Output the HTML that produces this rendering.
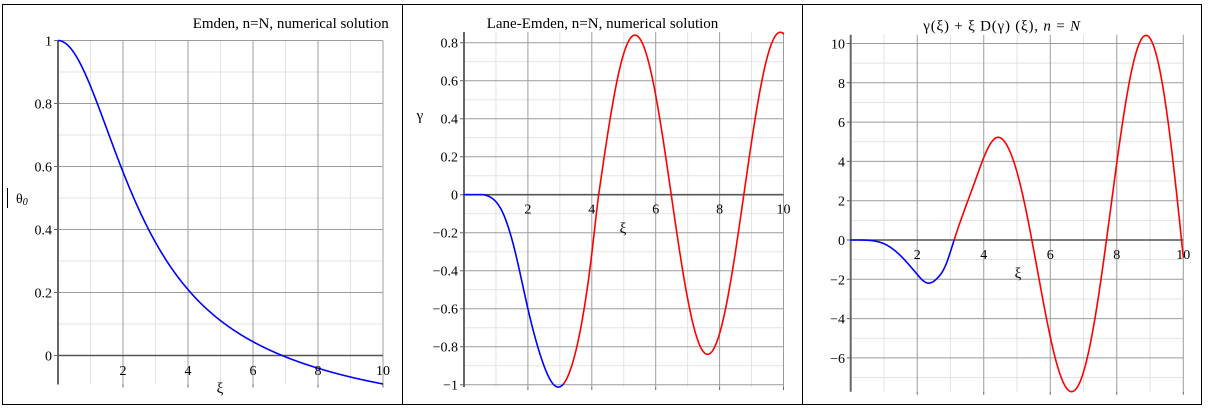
<!DOCTYPE html>
<html>
<head>
<meta charset="utf-8">
<style>
html,body{margin:0;padding:0;background:#fff;}
svg{display:block;font-family:"Liberation Serif","DejaVu Serif",serif;}
text{fill:#000;}
</style>
</head>
<body>
<svg id="s" width="1208" height="409" viewBox="0 0 1208 409" xmlns="http://www.w3.org/2000/svg">
<rect width="1208" height="409" fill="#fff"/>
<g id="grid"></g>
<g id="curves" fill="none"></g>

<g font-size="15">
<text x="192.7" y="28" textLength="196" lengthAdjust="spacing">Emden, n=N, numerical solution</text>
<text x="486.7" y="28" textLength="231.6" lengthAdjust="spacing">Lane-Emden, n=N, numerical solution</text>
<text x="923.3" y="30.5" textLength="156.7" lengthAdjust="spacing">γ(ξ) + ξ D(γ) (ξ), <tspan font-style="italic">n</tspan> = <tspan font-style="italic">N</tspan></text>
</g>

<g font-size="14" text-anchor="end">
<text x="52" y="45.5">1</text>
<text x="52" y="108.5">0.8</text>
<text x="52" y="171.5">0.6</text>
<text x="52" y="234.5">0.4</text>
<text x="52" y="297.5">0.2</text>
<text x="52" y="360.5">0</text>

<text x="458" y="47.7">0.8</text>
<text x="458" y="85.7">0.6</text>
<text x="458" y="123.7">0.4</text>
<text x="458" y="161.7">0.2</text>
<text x="458" y="199.7">0</text>
<text x="458" y="237.7">−0.2</text>
<text x="458" y="275.7">−0.4</text>
<text x="458" y="313.7">−0.6</text>
<text x="458" y="351.7">−0.8</text>
<text x="458" y="389.7">−1</text>

<text x="845" y="48.5">10</text>
<text x="845" y="87.8">8</text>
<text x="845" y="127.1">6</text>
<text x="845" y="166.4">4</text>
<text x="845" y="205.7">2</text>
<text x="845" y="245">0</text>
<text x="845" y="284.3">−2</text>
<text x="845" y="323.6">−4</text>
<text x="845" y="362.9">−6</text>
</g>

<g font-size="14" text-anchor="middle">
<text x="123" y="375">2</text>
<text x="188" y="375">4</text>
<text x="253" y="375">6</text>
<text x="318" y="375">8</text>
<text x="383" y="375">10</text>

<text x="527.9" y="213.5">2</text>
<text x="591.8" y="213.5">4</text>
<text x="655.7" y="213.5">6</text>
<text x="719.6" y="213.5">8</text>
<text x="783.5" y="213.5">10</text>

<text x="917.2" y="259">2</text>
<text x="983.7" y="259">4</text>
<text x="1050.3" y="259">6</text>
<text x="1116.8" y="259">8</text>
<text x="1183.3" y="259">10</text>
</g>

<g font-size="15" text-anchor="middle">
<text x="220" y="393">ξ</text>
<text x="623" y="233">ξ</text>
<text x="1018" y="278">ξ</text>
<text x="420" y="120">γ</text>
</g>

<path d="M7.5 188V208" stroke="#000" stroke-width="1"/>
<text x="16" y="203" font-size="14">θ<tspan font-size="10" font-style="italic" dy="2">0</tspan></text>

<g stroke="#000" stroke-width="1" fill="none">
<rect x="2.5" y="4.5" width="1199" height="400"/>
<path d="M402.5 4.5V404.5M802.5 4.5V404.5"/>
</g>
</svg>

<script>
(function(){
var NS='http://www.w3.org/2000/svg';
var gGrid=document.getElementById('grid'), gCur=document.getElementById('curves');
function add(p,tag,a){var e=document.createElementNS(NS,tag);for(var k in a)e.setAttribute(k,a[k]);p.appendChild(e);return e;}

var P1={x0:58,sx:32.5,y0:355.5,sy:315,top:40.5,bot:384.5,kmin:0,kmax:10,step:0.1};
var P2={x0:464,sx:31.95,y0:194.7,sy:190,top:32,bot:387,kmin:-10,kmax:8,step:0.1};
var P3={x0:850.7,sx:33.26,y0:240,sy:19.65,top:34.7,bot:391.7,kmin:-7,kmax:10,step:1};

function grid(P){
  var xr=P.x0+P.sx*10, minor=[], major=[], ticks=[];
  for(var i=1;i<=10;i++){
    var x=P.x0+P.sx*i;
    (i%2?minor:major).push('M'+x+' '+P.top+'V'+P.bot);
    if(i%2===0) ticks.push('M'+x+' '+P.bot+'v3');
  }
  for(var k=P.kmin;k<=P.kmax;k++){
    if(k===0) continue;
    var y=P.y0-P.sy*k*P.step;
    (Math.abs(k)%2?minor:major).push('M'+P.x0+' '+y+'H'+xr);
  }
  for(var k2=P.kmin;k2<=P.kmax;k2++){
    if(Math.abs(k2)%2) continue;
    var y2=P.y0-P.sy*k2*P.step;
    ticks.push('M'+(P.x0-4)+' '+y2+'H'+P.x0);
  }
  add(gGrid,'path',{d:minor.join(''),stroke:'#e3e3e3','stroke-width':1,fill:'none'});
  add(gGrid,'path',{d:major.join(''),stroke:'#9c9c9c','stroke-width':1,fill:'none'});
  add(gGrid,'path',{d:ticks.join(''),stroke:'#666','stroke-width':1,fill:'none'});
  add(gGrid,'path',{d:'M'+P.x0+' '+P.top+'V'+P.bot,stroke:'#666','stroke-width':2,fill:'none'});
  add(gGrid,'path',{d:'M'+P.x0+' '+P.y0+'H'+xr,stroke:'#555','stroke-width':1.6,fill:'none'});
}
grid(P1);grid(P2);grid(P3);

/* clamped cubic spline */
function cspline(xs,ys,s0,sN){
  var n=xs.length,h=[],d=[],a=[],b=[],c=[],r=[],i;
  for(i=0;i<n-1;i++){h[i]=xs[i+1]-xs[i];d[i]=(ys[i+1]-ys[i])/h[i];}
  a[0]=0;b[0]=2*h[0];c[0]=h[0];r[0]=6*(d[0]-s0);
  for(i=1;i<n-1;i++){a[i]=h[i-1];b[i]=2*(h[i-1]+h[i]);c[i]=h[i];r[i]=6*(d[i]-d[i-1]);}
  a[n-1]=h[n-2];b[n-1]=2*h[n-2];c[n-1]=0;r[n-1]=6*(sN-d[n-2]);
  for(i=1;i<n;i++){var w=a[i]/b[i-1];b[i]-=w*c[i-1];r[i]-=w*r[i-1];}
  var M=[];M[n-1]=r[n-1]/b[n-1];
  for(i=n-2;i>=0;i--)M[i]=(r[i]-c[i]*M[i+1])/b[i];
  return function(x){
    var j=0; while(j<n-2 && x>xs[j+1]) j++;
    var A=xs[j+1]-x,B=x-xs[j],hh=h[j];
    return M[j]*A*A*A/(6*hh)+M[j+1]*B*B*B/(6*hh)+(ys[j]/hh-M[j]*hh/6)*A+(ys[j+1]/hh-M[j+1]*hh/6)*B;
  };
}

function curve(P,f,a,b,color){
  var N=Math.max(2,Math.round((b-a)/0.01)), d='';
  for(var j=0;j<=N;j++){
    var x=a+(b-a)*j/N, px=P.x0+P.sx*x, py=P.y0-P.sy*f(x);
    d+=(j?'L':'M')+px.toFixed(2)+' '+py.toFixed(2);
  }
  add(gCur,'path',{d:d,stroke:color,fill:'none','stroke-width':1.6,'stroke-linejoin':'round','stroke-linecap':'round'});
}

/* Panel 1: Lane-Emden n=3 via RK4 */
(function(){
  var pts=[[0,1]];
  var x=1e-4, y=1-x*x/6, z=-x/3, h=0.002;
  function F(x,y,z){return -y*y*y-2*z/x;}
  pts.push([x,y]);
  while(x<10-1e-9){
    var hh=Math.min(h,10-x);
    var k1y=z,k1z=F(x,y,z);
    var k2y=z+hh/2*k1z,k2z=F(x+hh/2,y+hh/2*k1y,z+hh/2*k1z);
    var k3y=z+hh/2*k2z,k3z=F(x+hh/2,y+hh/2*k2y,z+hh/2*k2z);
    var k4y=z+hh*k3z,k4z=F(x+hh,y+hh*k3y,z+hh*k3z);
    y+=hh/6*(k1y+2*k2y+2*k3y+k4y);
    z+=hh/6*(k1z+2*k2z+2*k3z+k4z);
    x+=hh;
    pts.push([x,y]);
  }
  var d='';
  for(var i=0;i<pts.length;i+=3){
    var p=pts[i];
    d+=(i?'L':'M')+(P1.x0+P1.sx*p[0]).toFixed(2)+' '+(P1.y0-P1.sy*p[1]).toFixed(2);
  }
  var last=pts[pts.length-1];
  d+='L'+(P1.x0+P1.sx*last[0]).toFixed(2)+' '+(P1.y0-P1.sy*last[1]).toFixed(2);
  add(gCur,'path',{d:d,stroke:'#0000ff',fill:'none','stroke-width':1.6,'stroke-linejoin':'round'});
})();

var K=1.383, Z=4.215;
function Af(x){return x<7.6?0.84:0.84+0.015*(x-7.6)/2.3;}

/* Panel 2 */
var s2=cspline(
 [0,0.7,1.2,1.6,2.0,2.4,2.92,3.4,3.76,4.0,4.215],
 [0,-0.004,-0.09,-0.30,-0.60,-0.85,-1.012,-0.885,-0.60,-0.31,0],
 0,1.3);
function gam(x){
  if(x<Z){var v=s2(x); if(x<1.0&&v>0)v=0; return v;}
  return Af(x)*Math.sin(K*(x-Z));
}
curve(P2,gam,0,3.12,'#0000ff');
curve(P2,gam,3.12,10,'#ff0000');

/* Panel 3 */
var Z3=4.8;
var s3=cspline(
 [0,0.5,1.0,1.5,2.0,2.31,2.6,2.85,3.11,3.74,4.15,4.4,4.8],
 [0,-0.012,-0.19,-0.80,-1.75,-2.19,-1.95,-1.30,0,3.0,4.75,5.22,4.457],
 0,-3.98);
function g3(x){
  if(x<Z3){var v=s3(x); if(x<1.0&&v>0)v=0; return v;}
  var u=K*(x-Z); return Af(x)*(Math.sin(u)+x*K*Math.cos(u));
}
curve(P3,g3,0,3.11,'#0000ff');
curve(P3,g3,3.11,10,'#ff0000');
})();
</script>
</body>
</html>
